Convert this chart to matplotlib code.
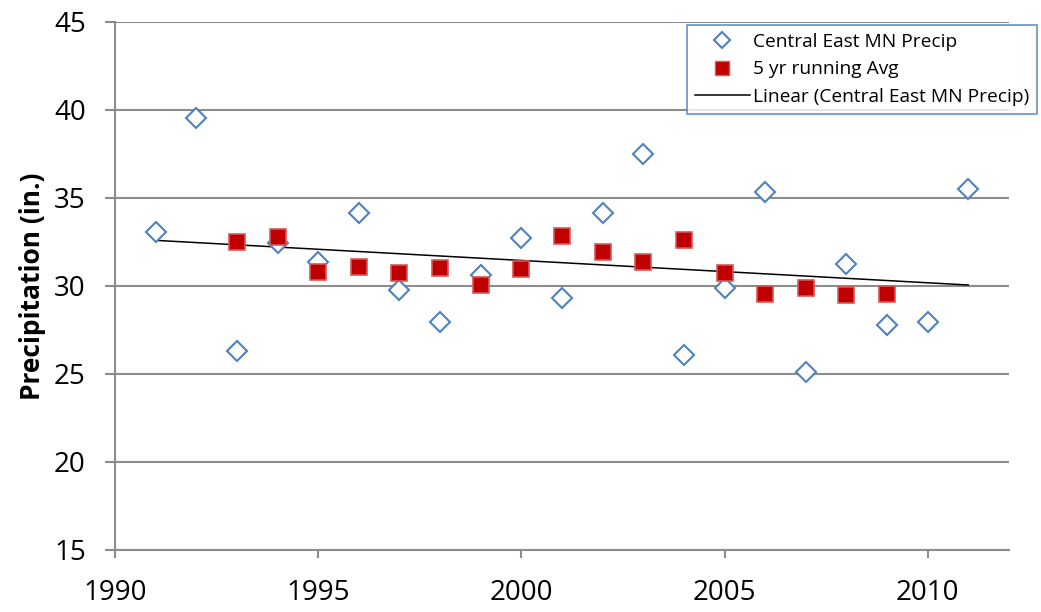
import numpy as np
import matplotlib
matplotlib.use("Agg")
import matplotlib.pyplot as plt
from matplotlib.lines import Line2D

plt.rcParams['font.family'] = ['Open Sans', 'DejaVu Sans']

years = [1991, 1992, 1993, 1994, 1995, 1996, 1997, 1998, 1999, 2000, 2001,
         2002, 2003, 2004, 2005, 2006, 2007, 2008, 2009, 2010, 2011]
precip = [33.07, 39.55, 26.3, 32.44, 31.35, 34.15, 29.77, 27.95, 30.6, 32.71, 29.34,
          34.17, 37.5, 26.08, 29.9, 35.32, 25.13, 31.23, 27.8, 27.97, 35.5]
avg_years = [1993, 1994, 1995, 1996, 1997, 1998, 1999, 2000, 2001, 2002, 2003,
             2004, 2005, 2006, 2007, 2008, 2009]
running_avg = [32.52, 32.78, 30.78, 31.1, 30.72, 31.0, 30.06, 30.95, 32.84, 31.95, 31.38,
               32.61, 30.76, 29.53, 29.87, 29.49, 29.53]
xticks = [1990, 1995, 2000, 2005, 2010]
yticks = [15, 20, 25, 30, 35, 40, 45]

W, H = 1041, 612
fig = plt.figure(figsize=(W / 100, H / 100), dpi=100)
ax = fig.add_axes([115 / W, 1 - 550 / H, (1009 - 115) / W, (550 - 22) / H])

grid_c = '#8c8c8c'
ax.set_xlim(1990, 2012)
ax.set_ylim(15, 45)
ax.set_xticks(xticks)
ax.set_yticks(yticks)
ax.yaxis.grid(True, color=grid_c, lw=1.5)
ax.set_axisbelow(True)
for s in ['top', 'right']:
    ax.spines[s].set_visible(False)
for s in ['left', 'bottom']:
    ax.spines[s].set_color(grid_c)
    ax.spines[s].set_linewidth(1.5)
ax.tick_params(axis='y', length=7, width=1.5, color=grid_c, labelsize=20, pad=14)
ax.tick_params(axis='x', length=6, width=1.5, color=grid_c, labelsize=20, pad=15)

# trend line
coef = np.polyfit(years, precip, 1)
tx = np.array([years[0], years[-1]])
ax.plot(tx, np.polyval(coef, tx), color='black', lw=1.1, zorder=2)

ax.plot(years, precip, linestyle='none', marker='D', markersize=10,
        markerfacecolor='white', markeredgecolor='#4f81bd', markeredgewidth=1.5, zorder=3)
ax.plot(avg_years, running_avg, linestyle='none', marker='s', markersize=11.5,
        markerfacecolor='#c00000', markeredgecolor='#d45a5a', markeredgewidth=1.2, zorder=4)

ax.set_ylabel('Precipitation (in.)', fontsize=19, fontweight='bold', labelpad=6)

handles = [
    Line2D([], [], linestyle='none', marker='D', markersize=8, markerfacecolor='white',
           markeredgecolor='#4f81bd', markeredgewidth=1.5),
    Line2D([], [], linestyle='none', marker='s', markersize=10, markerfacecolor='#c00000',
           markeredgecolor='#d45a5a', markeredgewidth=1.0),
    Line2D([], [], color='black', lw=1.1),
]
labels = ['Central East MN Precip', '5 yr running Avg', 'Linear (Central East MN Precip)']
leg = fig.legend(handles, labels, loc='upper left', bbox_to_anchor=(687 / W, 1 - 25 / H),
                 fontsize=13.8, frameon=True, fancybox=False, borderpad=0.4,
                 handlelength=2.9, handletextpad=0.15, labelspacing=0.5, borderaxespad=0)
leg.get_frame().set_edgecolor('#4f81bd')
leg.get_frame().set_linewidth(1.3)

fig.savefig('out.png', dpi=100)
